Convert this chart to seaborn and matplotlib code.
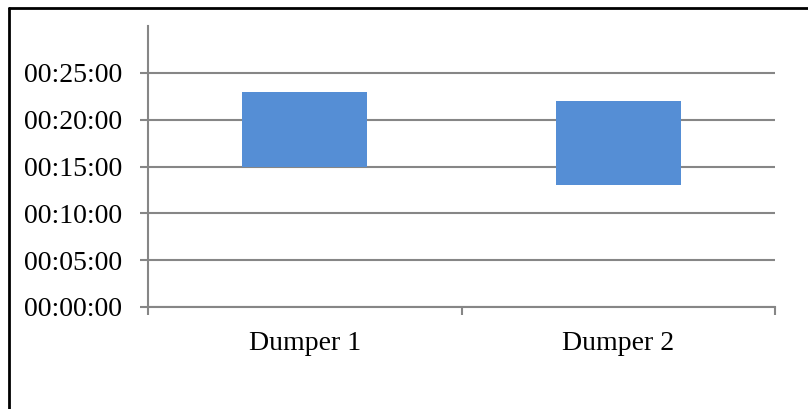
import matplotlib
matplotlib.use("Agg")
import matplotlib.pyplot as plt
from matplotlib.ticker import FuncFormatter, FixedLocator
from matplotlib.lines import Line2D
import pandas as pd
import seaborn as sns

# Start and end times (minutes) of each dumper's floating bar
categories = ["Dumper 1", "Dumper 2"]
start_min = [15, 13]
end_min = [23, 22]
y_ticks = [0, 5, 10, 15, 20, 25]

df = pd.DataFrame({
    "dumper": categories,
    "start": start_min,
    "duration": [e - s for s, e in zip(start_min, end_min)],
})

sns.set_theme(style="white")
plt.rcParams["font.family"] = ["Liberation Serif", "DejaVu Serif"]

grid_col = "#868686"
fig = plt.figure(figsize=(8.08, 4.09), dpi=100)
ax = fig.add_axes([148 / 808, 1 - 307 / 409, (775 - 148) / 808, (307 - 26) / 409])

sns.barplot(data=df, x="dumper", y="duration", bottom=df["start"].to_numpy(),
            color="#558ED5", saturation=1, width=0.4, ax=ax, linewidth=0)

ax.set_ylim(0, 30)
ax.set_xlim(-0.5, 1.5)
ax.yaxis.set_major_locator(FixedLocator(y_ticks))
ax.yaxis.set_major_formatter(FuncFormatter(lambda v, p: f"00:{int(v):02d}:00"))
ax.yaxis.grid(True, color=grid_col, linewidth=1.5)
ax.set_axisbelow(True)

# category boundaries as ticks, names centred between them
ax.set_xticks([-0.5, 0.5, 1.5])
ax.set_xticklabels([])
ax.set_xticks([0, 1], minor=True)
ax.set_xticklabels(categories, minor=True)
ax.tick_params(axis="x", which="major", direction="out", length=6, width=1.5,
               color=grid_col, bottom=True)
ax.tick_params(axis="x", which="minor", length=0, labelsize=20, pad=17,
               labelcolor="black")
ax.tick_params(axis="y", direction="out", length=5.5, width=1.5, color=grid_col,
               left=True, labelsize=20, pad=13, labelcolor="black")
ax.set_xlabel("")
ax.set_ylabel("")

for side in ("top", "right"):
    ax.spines[side].set_visible(False)
for side in ("left", "bottom"):
    ax.spines[side].set_color(grid_col)
    ax.spines[side].set_linewidth(1.5)

# outer frame (top and left edges)
fig.add_artist(Line2D([8.5 / 808, 1.0], [1 - 8 / 409, 1 - 8 / 409],
                      transform=fig.transFigure, color="black", linewidth=2))
fig.add_artist(Line2D([8.5 / 808, 8.5 / 808], [0, 1 - 8 / 409],
                      transform=fig.transFigure, color="black", linewidth=2))

fig.savefig("out.png", dpi=100)
